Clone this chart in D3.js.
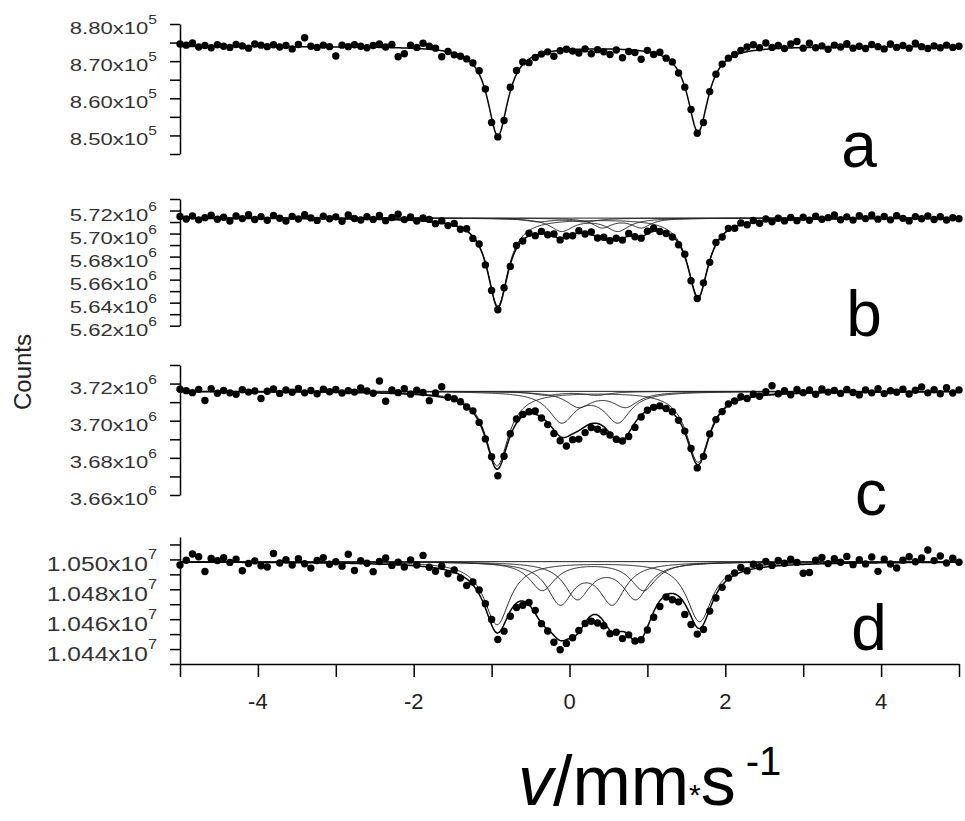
<!DOCTYPE html>
<html><head><meta charset="utf-8">
<script src="https://cdn.jsdelivr.net/npm/d3@7"></script>
<style>body{margin:0;background:#fff} svg{display:block}</style>
</head><body><svg id="chart" width="965" height="821"></svg>
<script>
// ---------- DATA (counts in thousands, velocity in mm/s) ----------
const velocityStart = -5, velocityStep = 0.08, channelCount = 126; // channel calibration

const aCounts = [
874.6,874.3,874.9,873.8,874.2,873.6,874.4,874.0,873.7,874.5,
874.1,873.5,874.6,874.3,873.9,874.4,873.8,874.2,873.3,874.5,
876.3,874.0,873.7,874.3,873.9,871.4,874.3,873.9,874.4,874.0,
873.6,874.2,874.6,873.8,874.5,871.2,872.0,874.3,873.7,874.8,
874.0,873.5,871.2,872.6,871.7,871.3,870.6,869.5,867.4,862.5,
853.5,849.6,854.0,863.0,867.5,869.8,869.6,871.0,871.9,872.5,
871.3,872.8,873.2,872.7,872.2,873.3,872.0,873.1,872.5,871.8,
873.0,870.9,872.6,872.3,870.5,872.9,871.8,872.4,870.8,869.8,
866.8,863.0,857.0,850.6,853.5,861.8,866.5,869.2,870.8,871.8,
872.9,873.8,874.4,873.6,874.9,873.7,874.2,873.4,874.6,875.3,
873.5,874.8,873.6,874.1,873.2,874.3,873.8,874.7,873.5,874.0,
873.4,874.5,873.9,873.3,874.6,873.7,874.2,873.5,874.8,873.9,
873.4,874.1,873.6,874.3,873.7,874.0];

const bCounts = [
5714.8,5712.6,5715.3,5711.9,5713.8,5716.0,5712.4,5714.1,5710.9,5715.2,
5713.0,5716.4,5712.2,5714.7,5711.5,5715.8,5713.3,5710.8,5714.9,5712.7,
5716.3,5713.6,5711.4,5715.1,5712.8,5714.5,5710.6,5716.2,5713.1,5711.8,
5714.6,5712.3,5715.7,5711.2,5713.9,5716.8,5712.1,5714.4,5710.9,5713.5,
5712.3,5708.6,5711.0,5706.9,5708.8,5703.7,5704.2,5695.8,5690.9,5672.8,
5650.6,5633.8,5653.0,5671.5,5689.6,5693.6,5700.3,5698.2,5701.9,5698.9,
5699.6,5694.5,5697.9,5698.1,5702.4,5699.6,5701.3,5696.1,5696.8,5693.7,
5695.9,5694.3,5700.1,5697.2,5696.0,5702.1,5704.6,5701.8,5700.0,5697.0,
5690.3,5682.1,5659.0,5643.6,5657.2,5675.0,5692.3,5697.0,5704.5,5704.6,
5709.2,5707.7,5711.3,5709.0,5712.6,5710.3,5713.3,5711.0,5713.9,5711.2,
5714.1,5711.6,5715.0,5712.4,5713.8,5716.2,5712.0,5714.5,5711.7,5715.4,
5713.0,5716.1,5712.5,5714.8,5711.9,5715.6,5713.2,5711.0,5714.7,5712.9,
5715.3,5712.2,5714.6,5711.8,5713.7,5712.9];

const cCounts = [
3717.0,3716.2,3715.1,3716.9,3710.9,3717.3,3714.8,3716.3,3715.0,3714.2,
3716.7,3715.4,3716.0,3712.0,3715.9,3717.1,3714.7,3716.5,3715.3,3717.4,
3715.0,3716.3,3714.5,3717.0,3715.6,3716.8,3714.9,3716.2,3715.4,3717.6,
3716.0,3714.8,3721.4,3710.5,3716.6,3715.1,3717.2,3714.3,3716.4,3715.2,
3710.8,3715.0,3718.3,3712.6,3711.8,3710.2,3707.4,3705.3,3699.1,3690.2,
3680.6,3670.4,3680.9,3693.0,3700.9,3703.4,3704.8,3705.2,3701.5,3697.9,
3693.1,3689.2,3686.4,3689.8,3690.1,3693.6,3696.3,3695.4,3694.0,3692.3,
3690.0,3689.1,3691.5,3696.4,3702.0,3705.6,3707.2,3708.0,3706.6,3704.8,
3700.2,3694.4,3685.0,3674.6,3680.8,3692.9,3700.6,3704.9,3709.0,3710.6,
3712.9,3712.0,3714.3,3713.2,3715.6,3718.8,3714.5,3716.2,3714.0,3716.8,
3715.1,3716.5,3714.2,3717.1,3715.4,3716.3,3714.7,3716.9,3715.2,3713.9,
3716.6,3715.0,3717.3,3714.6,3716.1,3715.3,3717.0,3714.4,3716.4,3718.2,
3715.0,3716.7,3714.5,3717.8,3714.9,3716.6];

const dCounts = [
10496.3,10499.4,10503.6,10501.8,10491.9,10500.6,10499.2,10501.1,10498.0,10500.2,
10492.4,10497.3,10499.0,10495.8,10494.9,10504.0,10497.6,10499.8,10496.2,10500.5,
10497.1,10494.2,10499.3,10501.2,10496.8,10498.4,10495.5,10503.5,10492.6,10499.1,
10497.4,10491.8,10498.6,10500.9,10496.0,10498.2,10494.9,10499.7,10496.3,10502.7,
10494.8,10492.0,10495.6,10490.4,10492.9,10487.6,10482.5,10484.9,10479.6,10470.3,
10459.8,10446.4,10452.0,10462.0,10467.8,10469.3,10471.2,10465.9,10457.0,10452.1,
10444.6,10439.5,10443.8,10447.6,10452.4,10457.1,10458.6,10457.4,10455.6,10450.3,
10451.2,10447.0,10449.5,10445.4,10446.2,10452.8,10461.3,10468.5,10474.8,10473.0,
10471.6,10463.2,10456.4,10450.0,10453.1,10465.4,10474.2,10481.3,10487.5,10490.9,
10494.6,10492.3,10496.8,10495.1,10498.6,10496.0,10499.3,10497.4,10500.1,10498.0,
10490.7,10491.2,10499.5,10501.3,10497.2,10500.4,10498.1,10502.0,10496.5,10499.8,
10497.0,10501.6,10492.0,10500.2,10496.9,10494.3,10499.5,10501.8,10498.4,10500.9,
10506.3,10499.2,10502.3,10497.6,10500.8,10498.1];

// Fitted doublets: [line1 velocity, line2 velocity, depth1, depth2, half width]
const aBaseline = 874.0;
const aDoublets = [[-0.92, 1.65, 24, 23, 0.16]];
const bBaseline = 5713.4;
const bDoublets = [[-0.92, 1.65, 76, 68, 0.16], [-0.10, 0.62, 11, 11, 0.18], [0.42, 0.92, 8, 8, 0.15], [-0.40, 0.20, 3, 3, 0.20]];
const cBaseline = 3715.8;
const cDoublets = [[-0.93, 1.65, 40, 38, 0.18], [-0.10, 0.62, 16, 16, 0.20], [0.12, 0.72, 8, 8, 0.20], [-0.30, 0.35, 2, 2, 0.20]];
const dBaseline = 10498.5;
const dDoublets = [[-0.93, 1.67, 42, 40, 0.20], [-0.12, 0.55, 27, 27, 0.20], [0.10, 0.85, 24, 24, 0.20], [-0.35, 0.95, 19, 19, 0.20]];

// Axis ticks
const xTicks = [-5, -4, -3, -2, -1, 0, 1, 2, 3, 4, 5];
const xLabelTicks = [-4, -2, 0, 2, 4];
const aYTicks = [845, 850, 855, 860, 865, 870, 875, 880];
const aYLabelTicks = [850, 860, 870, 880];
const aYLabels = ["8.50", "8.60", "8.70", "8.80"];
const bYTicks = [5620, 5630, 5640, 5650, 5660, 5670, 5680, 5690, 5700, 5710, 5720, 5730];
const bYLabelTicks = [5620, 5640, 5660, 5680, 5700, 5720];
const bYLabels = ["5.62", "5.64", "5.66", "5.68", "5.70", "5.72"];
const cYTicks = [3660, 3670, 3680, 3690, 3700, 3710, 3720, 3730];
const cYLabelTicks = [3660, 3680, 3700, 3720];
const cYLabels = ["3.66", "3.68", "3.70", "3.72"];
const dYTicks = [10430, 10440, 10450, 10460, 10470, 10480, 10490, 10500, 10510];
const dYLabelTicks = [10440, 10460, 10480, 10500];
const dYLabels = ["1.044", "1.046", "1.048", "1.050"];

// ---------- DRAWING ----------
const FONT = "'Liberation Sans', Arial, Helvetica, sans-serif";
const svg = d3.select('#chart');
const x = d3.scaleLinear().domain([-5, 5]).range([180, 959]);
const velocity = d3.range(channelCount).map(i => velocityStart + velocityStep * i);
const fine = d3.range(-5, 5.0001, 0.01);
const doubletDip = (v, dbl) => {
  const [p1, p2, d1, d2, g] = dbl;
  return d1 / (1 + ((v - p1) / g) ** 2) + d2 / (1 + ((v - p2) / g) ** 2);
};

const panels = [
  {counts: aCounts, base: aBaseline, dbl: aDoublets, domain: [845, 880], range: [154, 24], ticks: aYTicks, lt: aYLabelTicks, labels: aYLabels, exp: "5", fs: 17, sx: 1.3, supFs: 12, supDy: 10, ldy: 10, sub: false, letter: "a", lx: 859, ly: 167},
  {counts: bCounts, base: bBaseline, dbl: bDoublets, domain: [5620, 5730], range: [325.7, 199], ticks: bYTicks, lt: bYLabelTicks, labels: bYLabels, exp: "6", fs: 17, sx: 1.3, supFs: 12, supDy: 10, ldy: 10, sub: true, letter: "b", lx: 864, ly: 336},
  {counts: cCounts, base: cBaseline, dbl: cDoublets, domain: [3660, 3730], range: [495, 365], ticks: cYTicks, lt: cYLabelTicks, labels: cYLabels, exp: "6", fs: 17, sx: 1.3, supFs: 12, supDy: 10, ldy: 10, sub: true, letter: "c", lx: 871, ly: 515},
  {counts: dCounts, base: dBaseline, dbl: dDoublets, domain: [10430, 10515], range: [664, 537], ticks: dYTicks, lt: dYLabelTicks, labels: dYLabels, exp: "7", fs: 21, sx: 1.17, supFs: 14, supDy: 12, ldy: 12, sub: true, letter: "d", lx: 869, ly: 650}
];

panels.forEach(p => {
  const y = d3.scaleLinear().domain(p.domain).range(p.range);
  const g = svg.append('g');

  // y axis
  g.append('g').attr('transform', 'translate(180,0)')
    .call(d3.axisLeft(y).tickValues(p.ticks).tickSize(10).tickSizeOuter(0).tickFormat(''))
    .call(s => s.selectAll('path,line').attr('stroke', '#000').attr('stroke-width', 1.5));

  p.lt.forEach((t, i) => {
    const lg = g.append('g').attr('transform', `translate(157,${y(t) + p.ldy}) scale(${p.sx},1)`);
    const txt = lg.append('text').attr('text-anchor', 'end').attr('font-family', FONT)
      .attr('font-size', p.fs).attr('fill', '#333');
    txt.append('tspan').text(p.labels[i] + 'x10');
    txt.append('tspan').attr('font-size', p.supFs).attr('dy', -p.supDy).text(p.exp);
  });

  const line = d3.line().x(d => x(d[0])).y(d => y(d[1]));

  if (p.sub) {
    g.append('path').attr('d', line([[-5, p.base], [5, p.base]]))
      .attr('fill', 'none').attr('stroke', '#222').attr('stroke-width', 1);
    p.dbl.forEach(dbl => {
      g.append('path').attr('d', line(fine.map(v => [v, p.base - doubletDip(v, dbl)])))
        .attr('fill', 'none').attr('stroke', '#222').attr('stroke-width', 1);
    });
  }

  g.append('g').selectAll('circle').data(p.counts).join('circle')
    .attr('cx', (d, i) => x(velocity[i])).attr('cy', d => y(d)).attr('r', 3.7).attr('fill', '#000');

  g.append('path').attr('d', line(fine.map(v => [v, p.base - d3.sum(p.dbl, dbl => doubletDip(v, dbl))])))
    .attr('fill', 'none').attr('stroke', '#000').attr('stroke-width', 1.5);

  g.append('text').attr('x', p.lx).attr('y', p.ly).attr('text-anchor', 'middle')
    .attr('font-family', FONT).attr('font-size', 64).attr('fill', '#000').text(p.letter);

  if (p.letter === 'd') {
    g.append('g').attr('transform', 'translate(0,664)')
      .call(d3.axisBottom(x).tickValues(xTicks).tickSize(13).tickSizeOuter(0).tickFormat(''))
      .call(s => s.selectAll('path,line').attr('stroke', '#000').attr('stroke-width', 1.5));
    xLabelTicks.forEach(t => {
      g.append('text').attr('x', x(t)).attr('y', 709).attr('text-anchor', 'middle')
        .attr('font-family', FONT).attr('font-size', 22).attr('fill', '#222').text(String(t));
    });
  }
});

svg.append('text').attr('transform', 'translate(31,372) rotate(-90)').attr('text-anchor', 'middle')
  .attr('font-family', FONT).attr('font-size', 24).attr('fill', '#222').text('Counts');

const xt = svg.append('text').attr('x', 518).attr('y', 805).attr('font-family', FONT)
  .attr('font-size', 70).attr('fill', '#000');
xt.append('tspan').attr('font-style', 'italic').text('v');
xt.append('tspan').text('/mm');
xt.append('tspan').attr('font-size', 30).text('*');
xt.append('tspan').text('s');
xt.append('tspan').attr('font-size', 40).attr('dx', 10).attr('dy', -30).text('-1');
</script>
</body></html>
